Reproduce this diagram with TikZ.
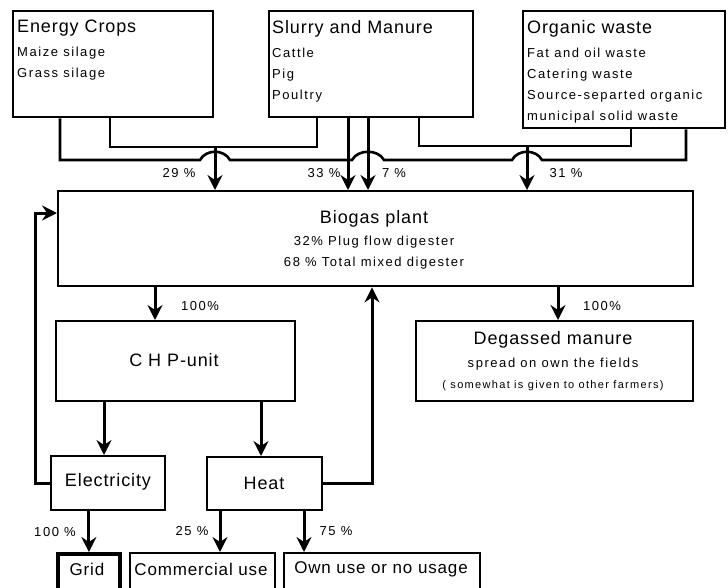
\documentclass[tikz,border=0pt]{standalone}
\usepackage{fontspec}
\setmainfont{Liberation Sans}
\usetikzlibrary{arrows.meta}

\newcommand{\ttlfont}{\fontsize{18}{22}\selectfont\addfontfeature{LetterSpace=5}}
\newcommand{\btmfont}{\fontsize{17}{21}\selectfont\addfontfeature{LetterSpace=5}}
\newcommand{\txtfont}{\fontsize{13}{21}\selectfont\addfontfeature{LetterSpace=12}}
\newcommand{\smlfont}{\fontsize{11}{21}\selectfont\addfontfeature{LetterSpace=12}}

\tikzset{
	box/.style={draw=black, line width=2.4pt, rectangle, anchor=north west, inner sep=0pt},
	line/.style={line width=2.6pt},
	arr/.style={line width=3pt, -{Stealth[length=15pt, width=15pt, inset=5pt]}},
	txt/.style={font=\txtfont, inner sep=0pt},
	ttl/.style={font=\ttlfont, inner sep=0pt},
}

\begin{document}
\begin{tikzpicture}[x=1pt, y=-1pt]
	\useasboundingbox (0,0) rectangle (728,587);
	\clip (0,0) rectangle (728,587);

	% boxes
	\node[box, minimum width=200, minimum height=106] (crops)    at (12,10)  {};
	\node[box, minimum width=204, minimum height=106] (slurry)   at (268,10) {};
	\node[box, minimum width=202, minimum height=117] (organic)  at (522,10) {};
	\node[box, minimum width=635, minimum height=95]  (biogas)   at (57,190) {};
	\node[box, minimum width=239, minimum height=80]  (chp)      at (55,320) {};
	\node[box, minimum width=277, minimum height=80]  (degassed) at (415,320) {};
	\node[box, minimum width=114, minimum height=54]  (elec)     at (50,455) {};
	\node[box, minimum width=115, minimum height=53]  (heat)     at (206,456) {};
	\node[box, minimum width=62,  minimum height=50, line width=3.8pt] (grid) at (56,552) {};
	\node[box, minimum width=145, minimum height=50]  (comm)     at (129,552) {};
	\node[box, minimum width=196, minimum height=50]  (own)      at (283,552) {};

	% texts
	\node[txt, align=left, anchor=north west] (cropstxt) at (17,20)
		{{\ttlfont Energy Crops}\\[3pt] Maize silage\\ Grass silage};
	\node[txt, align=left, anchor=north west] (slurrytxt) at (272,20)
		{{\ttlfont Slurry and Manure}\\[3pt] Cattle\\ Pig\\ Poultry};
	\node[txt, align=left, anchor=north west] (organictxt) at (527,20)
		{{\ttlfont Organic waste}\\[3pt] Fat and oil waste\\ Catering waste\\ Source-separted organic\\ municipal solid waste};
	\node[txt, align=center, anchor=north] (biogastxt) at (374,210)
		{{\ttlfont Biogas plant}\\[1pt] 32\% Plug flow digester\\ 68 \% Total mixed digester};
	\node[ttl] (chptxt) at (174,360) {C H P-unit};
	\node[txt, align=center, anchor=north] (degassedtxt) at (553,331)
		{{\ttlfont Degassed manure}\\[2pt] spread on own the fields\\ {\smlfont ( somewhat is given to other farmers)}};
	\node[ttl] (electxt) at (108,482) {Electricity};
	\node[ttl] (heattxt) at (264,483) {Heat};
	\node[ttl, font=\btmfont] (gridtxt) at (87,569) {Grid};
	\node[ttl, font=\btmfont] (commtxt) at (201,569) {Commercial use};
	\node[ttl, font=\btmfont] (owntxt)  at (381,569) {Own use or no usage};

	% junctions
	\coordinate (j1) at (110,147);
	\coordinate (j2) at (317,147);
	\coordinate (m1) at (215,147);
	\coordinate (j3) at (419,146);
	\coordinate (j4) at (631,146);
	\coordinate (m3) at (527,146);
	\coordinate (k1) at (60,160);
	\coordinate (k2) at (686,160);
	\coordinate (s1) at (348,0);
	\coordinate (s2) at (368,0);
	\coordinate (b1) at (155,0);
	\coordinate (b2) at (558,0);
	\coordinate (h1) at (220,0);
	\coordinate (h2) at (304,0);
	\coordinate (c1) at (104,0);
	\coordinate (c2) at (261,0);
	\coordinate (fb) at (35,213);
	\coordinate (hr) at (372,0);

	% feed lines
	\draw[line] (j1 |- crops.south) -- (j1) -- (j2) -- (j2 |- slurry.south);
	\draw[line] (j3 |- slurry.south) -- (j3) -- (j4) -- (j4 |- organic.south);
	\draw[line] (k1 |- crops.south) -- (k1) -- (200,160)
		.. controls (206,149) and (224,149) .. (230,160) -- (352,160)
		.. controls (358,149) and (378,149) .. (384,160) -- (512,160)
		.. controls (518,149) and (536,149) .. (542,160) -- (k2) -- (k2 |- organic.south);

	% arrows
	\draw[arr] (m1) -- (m1 |- biogas.north);
	\draw[arr] (s1 |- slurry.south) -- (s1 |- biogas.north);
	\draw[arr] (s2 |- slurry.south) -- (s2 |- biogas.north);
	\draw[arr] (m3) -- (m3 |- biogas.north);
	\draw[arr] (b1 |- biogas.south) -- (b1 |- chp.north);
	\draw[arr] (b2 |- biogas.south) -- (b2 |- degassed.north);
	\draw[arr] (c1 |- chp.south) -- (c1 |- elec.north);
	\draw[arr] (c2 |- chp.south) -- (c2 |- heat.north);
	\draw[arr] (grid.north |- elec.south) -- (grid.north);
	\draw[arr] (h1 |- heat.south) -- (h1 |- comm.north);
	\draw[arr] (h2 |- heat.south) -- (h2 |- own.north);
	\draw[arr] (elec.west) -| (fb) -- (fb -| biogas.west);
	\draw[arr] (heat.east) -| (hr |- biogas.south);

	% shares
	\node[txt] (p29)  at (179,173) {29 \%};
	\node[txt] (p33)  at (324,173) {33 \%};
	\node[txt] (p7)   at (394,173) {7 \%};
	\node[txt] (p31)  at (566,173) {31 \%};
	\node[txt] (p100a) at (200,306) {100\%};
	\node[txt] (p100b) at (602,306) {100\%};
	\node[txt] (p100c) at (55,532) {100 \%};
	\node[txt] (p25)  at (192,531) {25 \%};
	\node[txt] (p75)  at (336,531) {75 \%};
\end{tikzpicture}
\end{document}
